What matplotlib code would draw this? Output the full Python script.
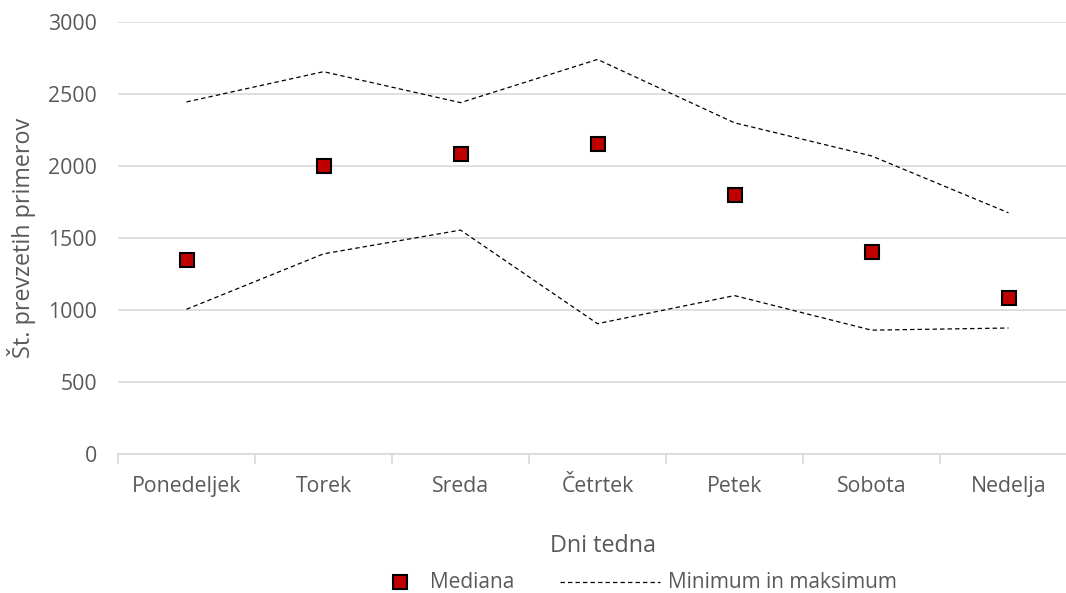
import matplotlib
matplotlib.use("Agg")
import matplotlib.pyplot as plt
from matplotlib.lines import Line2D

days = ["Ponedeljek", "Torek", "Sreda", "Četrtek", "Petek", "Sobota", "Nedelja"]
median = [1350, 2000, 2080, 2155, 1800, 1405, 1080]
maximum = [2445, 2655, 2440, 2740, 2300, 2070, 1675]
minimum = [1005, 1390, 1555, 905, 1100, 860, 875]
yticks = [0, 500, 1000, 1500, 2000, 2500, 3000]
legend_labels = ["Mediana", "Minimum in maksimum"]

plt.rcParams['font.family'] = ['Open Sans', 'DejaVu Sans']
gray = '#595959'
W, H = 1066, 593

fig = plt.figure(figsize=(W / 100, H / 100), dpi=100)
ax = fig.add_axes([118/W, 1-454/H, (1077-118)/W, (454-22)/H])

x = list(range(len(days)))
dash = (0, (3.5, 2.5))
marker_style = dict(marker='s', markersize=10, markerfacecolor='#C00000',
                    markeredgecolor='black', markeredgewidth=1.5)
ax.plot(x, maximum, color='black', lw=0.9, ls=dash, zorder=2)
ax.plot(x, minimum, color='black', lw=0.9, ls=dash, zorder=2)
ax.plot(x, median, ls='none', zorder=3, **marker_style)

ax.set_xlim(-0.5, len(days) - 0.5)
ax.set_ylim(0, 3000)
ax.set_yticks(yticks)
ax.set_yticklabels([str(v) for v in yticks])
ax.set_xticks(x)
ax.set_xticklabels(days)
ax.set_xticks([i - 0.5 for i in range(len(days) + 1)], minor=True)
ax.grid(axis='y', color='#D9D9D9', lw=1.2)
ax.set_axisbelow(True)
for s in ['top', 'right', 'left']:
    ax.spines[s].set_visible(False)
ax.spines['bottom'].set_color('#D9D9D9')
ax.spines['bottom'].set_linewidth(1.2)
ax.tick_params(axis='y', length=0, pad=15, labelsize=15.3, labelcolor=gray)
ax.tick_params(axis='x', which='major', length=0, pad=16, labelsize=15.3, labelcolor=gray)
ax.tick_params(axis='x', which='minor', length=7, width=1.2, color='#D9D9D9')

ax.set_ylabel("Št. prevzetih primerov", fontsize=16.8, color=gray)
ax.yaxis.set_label_coords(-(118 - 36) / (1077 - 118), 0.5)
fig.text(603/W, 1-546/H, "Dni tedna", fontsize=16.8, color=gray, ha='center', va='center')

# Legend (Excel-style layout), placed in figure pixel coordinates
ly = 1 - 582/H
fig.add_artist(Line2D([400/W], [ly], transform=fig.transFigure, ls='none', **marker_style))
fig.text(430/W, ly, legend_labels[0], fontsize=15, color=gray, ha='left', va='center')
fig.add_artist(Line2D([560/W, 660/W], [ly, ly], transform=fig.transFigure,
                      color='black', lw=0.9, ls=dash))
fig.text(668/W, ly, legend_labels[1], fontsize=15, color=gray, ha='left', va='center')

fig.savefig("out.png", dpi=100)
